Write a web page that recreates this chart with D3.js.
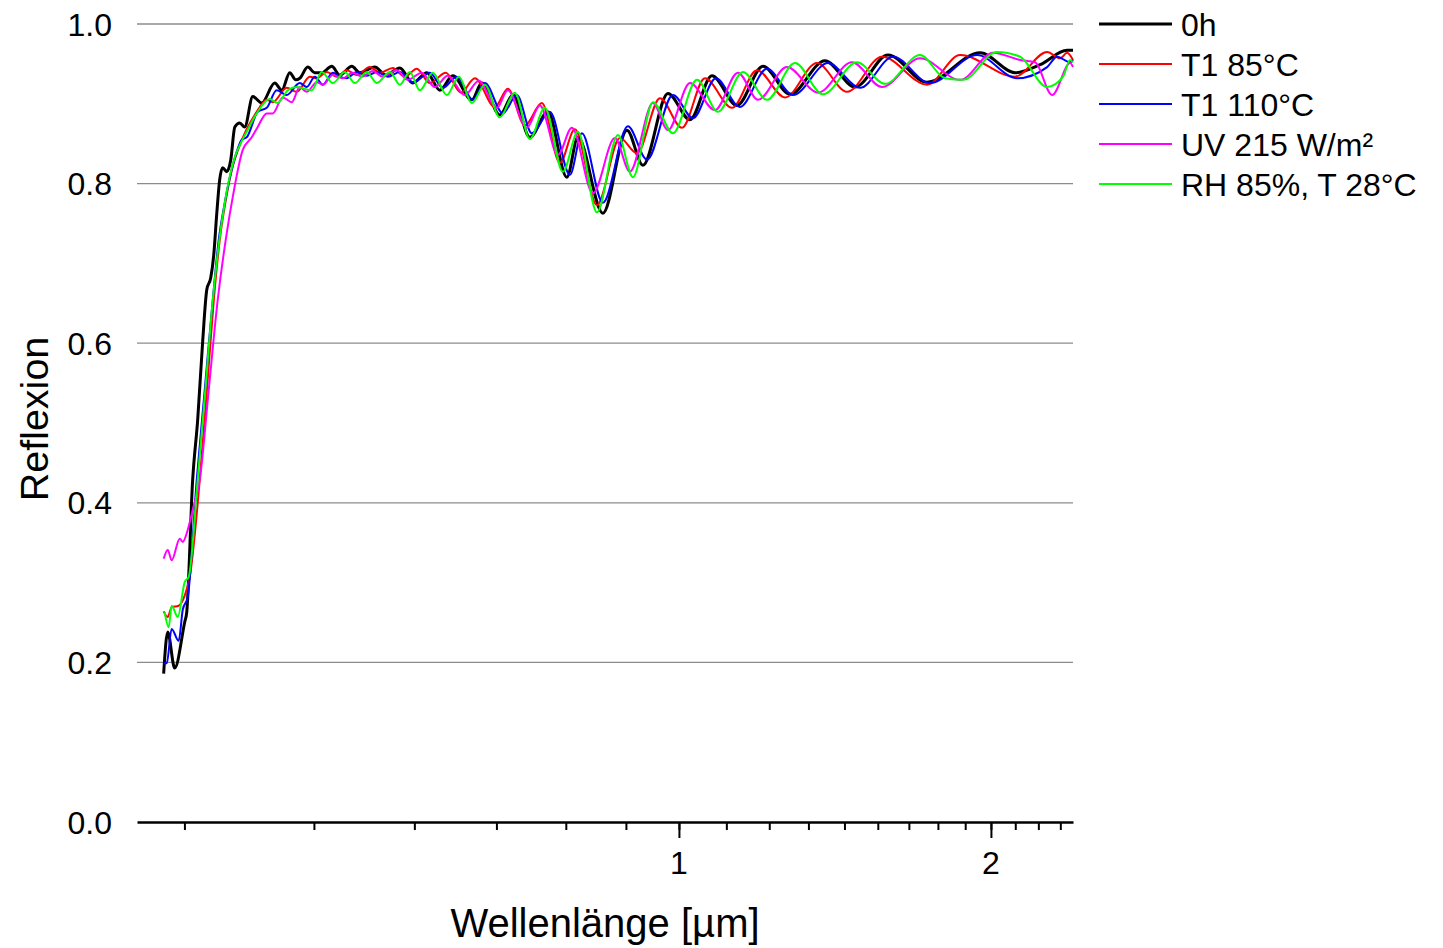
<!DOCTYPE html>
<html>
<head>
<meta charset="utf-8">
<script src="https://cdn.jsdelivr.net/npm/d3@7"></script>
<style>
  body { margin: 0; background: #fff; }
  text { font-family: "Liberation Sans", Arial, sans-serif; fill: #000; }
</style>
</head>
<body>
<svg id="chart" width="1443" height="948"></svg>
<script>
"use strict";

// Reflexionsspektren: [Wellenlänge µm, Reflexion]
var data0h = [[0.3183,0.186],[0.3212,0.238],[0.3262,0.193],[0.3336,0.251],[0.3350,0.262],[0.3395,0.429],[0.3433,0.504],[0.3472,0.604],[0.3503,0.667],[0.3534,0.682],[0.3558,0.711],[0.3581,0.761],[0.3605,0.805],[0.3629,0.820],[0.3662,0.815],[0.3695,0.830],[0.3728,0.871],[0.3769,0.876],[0.3811,0.871],[0.3880,0.909],[0.3958,0.901],[0.4074,0.926],[0.4138,0.917],[0.4212,0.939],[0.4269,0.930],[0.4307,0.932],[0.4384,0.946],[0.4453,0.939],[0.4523,0.939],[0.4624,0.947],[0.4707,0.936],[0.4835,0.947],[0.4921,0.939],[0.5088,0.946],[0.5214,0.936],[0.5379,0.945],[0.5537,0.926],[0.5712,0.939],[0.5879,0.917],[0.6051,0.935],[0.6312,0.905],[0.6454,0.926],[0.6718,0.886],[0.6915,0.911],[0.7181,0.858],[0.7474,0.890],[0.7796,0.808],[0.7989,0.858],[0.8446,0.763],[0.8909,0.867],[0.9231,0.823],[0.9759,0.913],[1.0248,0.880],[1.0761,0.935],[1.1376,0.898],[1.2053,0.947],[1.2798,0.912],[1.3833,0.954],[1.4787,0.921],[1.5913,0.961],[1.7354,0.927],[1.9523,0.964],[2.1102,0.939],[2.2308,0.949],[2.3688,0.967],[2.4,0.967]];

var dataT85 = [[0.3183,0.264],[0.3212,0.257],[0.3240,0.269],[0.3291,0.271],[0.3336,0.284],[0.3373,0.307],[0.3449,0.429],[0.3510,0.554],[0.3558,0.654],[0.3605,0.729],[0.3654,0.779],[0.3703,0.817],[0.3769,0.848],[0.3811,0.863],[0.3897,0.886],[0.3941,0.896],[0.4002,0.905],[0.4056,0.902],[0.4184,0.920],[0.4278,0.915],[0.4404,0.934],[0.4473,0.932],[0.4573,0.940],[0.4676,0.934],[0.4781,0.942],[0.4889,0.936],[0.5032,0.946],[0.5145,0.939],[0.5296,0.945],[0.5439,0.934],[0.5586,0.944],[0.5750,0.926],[0.5958,0.939],[0.6160,0.914],[0.6355,0.932],[0.6643,0.896],[0.6838,0.919],[0.7102,0.873],[0.7375,0.901],[0.7676,0.826],[0.7936,0.868],[0.8334,0.773],[0.8771,0.857],[0.9109,0.838],[0.9587,0.907],[1.0067,0.870],[1.0595,0.932],[1.1250,0.895],[1.1893,0.942],[1.2657,0.908],[1.3590,0.951],[1.4527,0.915],[1.5702,0.959],[1.7354,0.924],[1.8675,0.961],[2.1103,0.934],[2.2659,0.965],[2.3323,0.957],[2.3689,0.964],[2.4,0.955]];

var dataT110 = [[0.3183,0.199],[0.3205,0.199],[0.3240,0.242],[0.3291,0.227],[0.3321,0.266],[0.3358,0.282],[0.3426,0.429],[0.3487,0.541],[0.3550,0.654],[0.3597,0.729],[0.3646,0.776],[0.3686,0.807],[0.3736,0.836],[0.3786,0.855],[0.3828,0.858],[0.3923,0.890],[0.4002,0.895],[0.4092,0.917],[0.4184,0.911],[0.4307,0.926],[0.4374,0.921],[0.4453,0.934],[0.4533,0.924],[0.4635,0.939],[0.4707,0.934],[0.4781,0.932],[0.4889,0.940],[0.4998,0.935],[0.5111,0.940],[0.5237,0.934],[0.5379,0.940],[0.5537,0.927],[0.5750,0.939],[0.5918,0.920],[0.6105,0.934],[0.6326,0.905],[0.6497,0.926],[0.6763,0.888],[0.6976,0.911],[0.7213,0.863],[0.7507,0.890],[0.7849,0.811],[0.8061,0.863],[0.8446,0.776],[0.8928,0.872],[0.9314,0.830],[0.9868,0.911],[1.0316,0.882],[1.0857,0.932],[1.1452,0.896],[1.2160,0.944],[1.2884,0.911],[1.3926,0.951],[1.4953,0.920],[1.6091,0.959],[1.7470,0.926],[1.9394,0.961],[2.1197,0.932],[2.2659,0.946],[2.3168,0.959],[2.3847,0.952],[2.4,0.955]];

var dataUV = [[0.3183,0.330],[0.3212,0.341],[0.3240,0.328],[0.3299,0.355],[0.3321,0.351],[0.3358,0.366],[0.3395,0.391],[0.3449,0.429],[0.3518,0.541],[0.3589,0.654],[0.3662,0.738],[0.3711,0.783],[0.3794,0.842],[0.3871,0.858],[0.3923,0.871],[0.4002,0.888],[0.4056,0.888],[0.4147,0.908],[0.4231,0.902],[0.4307,0.921],[0.4374,0.915],[0.4473,0.927],[0.4533,0.924],[0.4635,0.936],[0.4739,0.932],[0.4845,0.939],[0.4943,0.934],[0.5066,0.941],[0.5179,0.934],[0.5343,0.942],[0.5475,0.930],[0.5648,0.939],[0.5814,0.921],[0.5984,0.935],[0.6215,0.911],[0.6411,0.929],[0.6673,0.895],[0.6838,0.917],[0.7133,0.870],[0.7342,0.898],[0.7642,0.836],[0.7884,0.870],[0.8260,0.788],[0.8674,0.857],[0.8968,0.815],[0.9439,0.901],[0.9759,0.867],[1.0248,0.926],[1.0833,0.892],[1.1401,0.939],[1.1920,0.905],[1.2713,0.946],[1.3620,0.914],[1.4689,0.952],[1.5702,0.921],[1.7086,0.957],[1.8675,0.930],[2.0096,0.964],[2.1339,0.955],[2.2062,0.952],[2.2912,0.911],[2.3847,0.951],[2.4,0.946]];

var dataRH = [[0.3190,0.263],[0.3219,0.244],[0.3240,0.271],[0.3284,0.257],[0.3336,0.301],[0.3365,0.307],[0.3433,0.429],[0.3495,0.548],[0.3550,0.654],[0.3597,0.723],[0.3646,0.776],[0.3728,0.833],[0.3769,0.848],[0.3828,0.865],[0.3923,0.890],[0.4029,0.906],[0.4101,0.901],[0.4194,0.917],[0.4278,0.921],[0.4423,0.917],[0.4523,0.940],[0.4635,0.926],[0.4760,0.940],[0.4867,0.926],[0.4998,0.940],[0.5111,0.926],[0.5261,0.940],[0.5379,0.924],[0.5500,0.940],[0.5623,0.917],[0.5788,0.939],[0.5971,0.911],[0.6133,0.934],[0.6312,0.901],[0.6497,0.924],[0.6718,0.883],[0.6945,0.914],[0.7181,0.856],[0.7424,0.895],[0.7727,0.815],[0.7989,0.865],[0.8334,0.764],[0.8732,0.861],[0.9028,0.808],[0.9439,0.902],[0.9868,0.863],[1.0408,0.930],[1.0906,0.890],[1.1529,0.940],[1.2160,0.905],[1.2941,0.951],[1.3772,0.912],[1.4853,0.952],[1.5807,0.925],[1.7086,0.961],[1.8062,0.932],[1.8800,0.930],[2.0275,0.965],[2.1339,0.959],[2.2659,0.921],[2.3479,0.934],[2.3847,0.955],[2.4,0.952]];

var seriesNames = ["0h", "T1 85°C", "T1 110°C", "UV 215 W/m²", "RH 85%, T 28°C"];
var seriesColors = ["#000000", "#ff0000", "#0000ff", "#ff00ff", "#00ff00"];
var seriesWidths = [3, 2, 2, 2, 2];
var seriesData = [data0h, dataT85, dataT110, dataUV, dataRH];

var yTickValues = [0, 0.2, 0.4, 0.6, 0.8, 1.0];
var xMajorTicks = [1, 2];
var xMinorTicks = d3.range(3, 22).map(function(k) { return k / 9; });

var svg = d3.select("#chart");

var x = d3.scaleLog().domain([0.3, 2.4]).range([137, 1073]);
var y = d3.scaleLinear().domain([0, 1]).range([822, 24]);

// Gitterlinien
svg.append("g").selectAll("line")
  .data(yTickValues.filter(function(d) { return d > 0; }))
  .enter().append("line")
    .attr("x1", 137).attr("x2", 1073)
    .attr("y1", function(d) { return y(d); })
    .attr("y2", function(d) { return y(d); })
    .style("stroke", "#8c8c8c")
    .style("stroke-width", 1.3);

// Y-Beschriftung
svg.append("g").selectAll("text")
  .data(yTickValues)
  .enter().append("text")
    .attr("x", 112)
    .attr("y", function(d) { return y(d); })
    .attr("dy", "0.36em")
    .attr("text-anchor", "end")
    .attr("font-size", 32)
    .text(d3.format(".1f"));

// X-Achse
var xAxisMinor = d3.axisBottom(x).tickValues(xMinorTicks).tickSize(8).tickSizeOuter(0).tickFormat("");
var gx = svg.append("g").attr("transform", "translate(0,822)").call(xAxisMinor);
gx.select(".domain").style("stroke", "#000").style("stroke-width", 2.5);
gx.selectAll(".tick line").style("stroke", "#000").style("stroke-width", 2);

var xAxisMajor = d3.axisBottom(x).tickValues(xMajorTicks).tickSize(16).tickSizeOuter(0).tickFormat("");
var gx2 = svg.append("g").attr("transform", "translate(0,822)").call(xAxisMajor);
gx2.select(".domain").remove();
gx2.selectAll(".tick line").style("stroke", "#000").style("stroke-width", 2);

svg.append("g").selectAll("text")
  .data(xMajorTicks)
  .enter().append("text")
    .attr("x", function(d) { return x(d); })
    .attr("y", 874)
    .attr("text-anchor", "middle")
    .attr("font-size", 32)
    .text(function(d) { return d; });

// Achsentitel
svg.append("text")
  .attr("x", 605).attr("y", 937)
  .attr("text-anchor", "middle")
  .attr("font-size", 40)
  .text("Wellenlänge [µm]");

svg.append("text")
  .attr("transform", "translate(48,419) rotate(-90)")
  .attr("text-anchor", "middle")
  .attr("font-size", 39.5)
  .text("Reflexion");

// Kurven
var line = d3.line()
  .x(function(d) { return x(d[0]); })
  .y(function(d) { return y(d[1]); })
  .curve(d3.curveMonotoneX);

svg.append("g").selectAll("path")
  .data(seriesData)
  .enter().append("path")
    .attr("d", line)
    .style("fill", "none")
    .style("stroke", function(d, i) { return seriesColors[i]; })
    .style("stroke-width", function(d, i) { return seriesWidths[i]; })
    .style("stroke-linejoin", "round");

// Legende
var legend = svg.append("g").selectAll("g")
  .data(seriesNames)
  .enter().append("g")
    .attr("transform", function(d, i) { return "translate(0," + (24 + i * 40) + ")"; });

legend.append("line")
  .attr("x1", 1099).attr("x2", 1172)
  .attr("y1", 0).attr("y2", 0)
  .style("stroke", function(d, i) { return seriesColors[i]; })
  .style("stroke-width", function(d, i) { return seriesWidths[i]; });

legend.append("text")
  .attr("x", 1181)
  .attr("dy", "0.36em")
  .attr("font-size", 32)
  .text(function(d) { return d; });
</script>
</body>
</html>
